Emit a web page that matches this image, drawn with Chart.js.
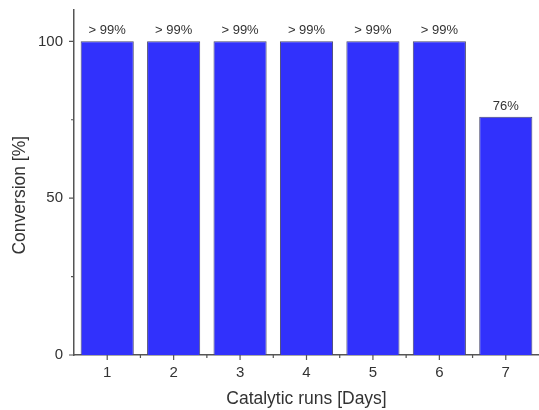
<!DOCTYPE html>
<html>
<head>
<meta charset="utf-8">
<script src="https://cdn.jsdelivr.net/npm/chart.js@4"></script>
<style>
  html, body { margin: 0; padding: 0; background: #fff; }
  #wrap { width: 539px; height: 410px; }
</style>
</head>
<body>
<div id="wrap"><canvas id="chart-conversion" width="539" height="410"></canvas></div>
<script>
const runs = ["1", "2", "3", "4", "5", "6", "7"];
const conversion = [100, 100, 100, 100, 100, 100, 76];
const barLabels = ["> 99%", "> 99%", "> 99%", "> 99%", "> 99%", "> 99%", "76%"];
const yMajorTicks = [0, 50, 100];
const yMinorTicks = [25, 75];

const axisColor = "#555";
const textColor = "#333";
const fontFamily = "'Liberation Sans', Arial, sans-serif";

// tick marks pointing out of the plot, major and minor like Origin
const tickMarks = {
  id: "tickMarks",
  afterDraw(chart) {
    const ctx = chart.ctx;
    const x = chart.scales.x;
    const y = chart.scales.y;
    ctx.save();
    ctx.strokeStyle = axisColor;
    ctx.lineWidth = 1.2;
    ctx.beginPath();
    yMajorTicks.forEach((v) => {
      const py = y.getPixelForValue(v);
      ctx.moveTo(x.left, py);
      ctx.lineTo(x.left - 5, py);
    });
    yMinorTicks.forEach((v) => {
      const py = y.getPixelForValue(v);
      ctx.moveTo(x.left, py);
      ctx.lineTo(x.left - 3, py);
    });
    runs.forEach((r, i) => {
      const px = x.getPixelForValue(i);
      ctx.moveTo(px, y.bottom);
      ctx.lineTo(px, y.bottom + 5);
      if (i > 0) {
        const pm = (x.getPixelForValue(i - 1) + px) / 2;
        ctx.moveTo(pm, y.bottom);
        ctx.lineTo(pm, y.bottom + 3);
      }
    });
    ctx.stroke();

    // y title, sits a little below the middle of the axis
    ctx.fillStyle = textColor;
    ctx.font = "17.5px " + fontFamily;
    ctx.textAlign = "center";
    ctx.textBaseline = "middle";
    ctx.translate(20, (y.bottom + y.getPixelForValue(100)) / 2 - 3);
    ctx.rotate(-Math.PI / 2);
    ctx.fillText("Conversion [%]", 0, 0);
    ctx.restore();
  },
};

// text above each bar
const barText = {
  id: "barText",
  afterDatasetsDraw(chart) {
    const ctx = chart.ctx;
    const meta = chart.getDatasetMeta(0);
    ctx.save();
    ctx.fillStyle = textColor;
    ctx.font = "13px " + fontFamily;
    ctx.textAlign = "center";
    ctx.textBaseline = "alphabetic";
    meta.data.forEach((bar, i) => {
      ctx.fillText(barLabels[i], bar.x, bar.y - 7);
    });
    ctx.restore();
  },
};

new Chart(document.getElementById("chart-conversion"), {
  type: "bar",
  plugins: [tickMarks, barText],
  data: {
    labels: runs,
    datasets: [
      {
        data: conversion,
        backgroundColor: "#3131fc",
        borderColor: "#4a4a70",
        borderWidth: 1,
        barPercentage: 0.8,
        categoryPercentage: 1.0,
      },
    ],
  },
  options: {
    responsive: false,
    animation: false,
    layout: { padding: { top: 10, right: 0, left: 0, bottom: 0 } },
    plugins: {
      legend: { display: false },
      tooltip: { enabled: false },
    },
    scales: {
      x: {
        afterFit(scale) {
          scale.height = 55;
          scale.paddingLeft = 0;
          scale.paddingRight = 0;
        },
        grid: { display: false, drawTicks: false },
        border: { display: true, color: axisColor, width: 1.5 },
        ticks: {
          color: textColor,
          padding: 9,
          font: { size: 15, family: fontFamily },
        },
        title: {
          display: true,
          text: "Catalytic runs [Days]",
          color: textColor,
          padding: { top: 0, bottom: 0 },
          font: { size: 17.5, family: fontFamily },
        },
      },
      y: {
        min: 0,
        max: 110,
        afterFit(scale) {
          scale.width = 74;
          scale.paddingTop = 0;
          scale.paddingBottom = 0;
        },
        afterBuildTicks(scale) {
          scale.ticks = yMajorTicks.map((v) => ({ value: v }));
        },
        grid: { display: false, drawTicks: false },
        border: { display: true, color: axisColor, width: 1.5 },
        ticks: {
          color: textColor,
          padding: 11,
          font: { size: 15, family: fontFamily },
        },
      },
    },
  },
});
</script>
</body>
</html>
